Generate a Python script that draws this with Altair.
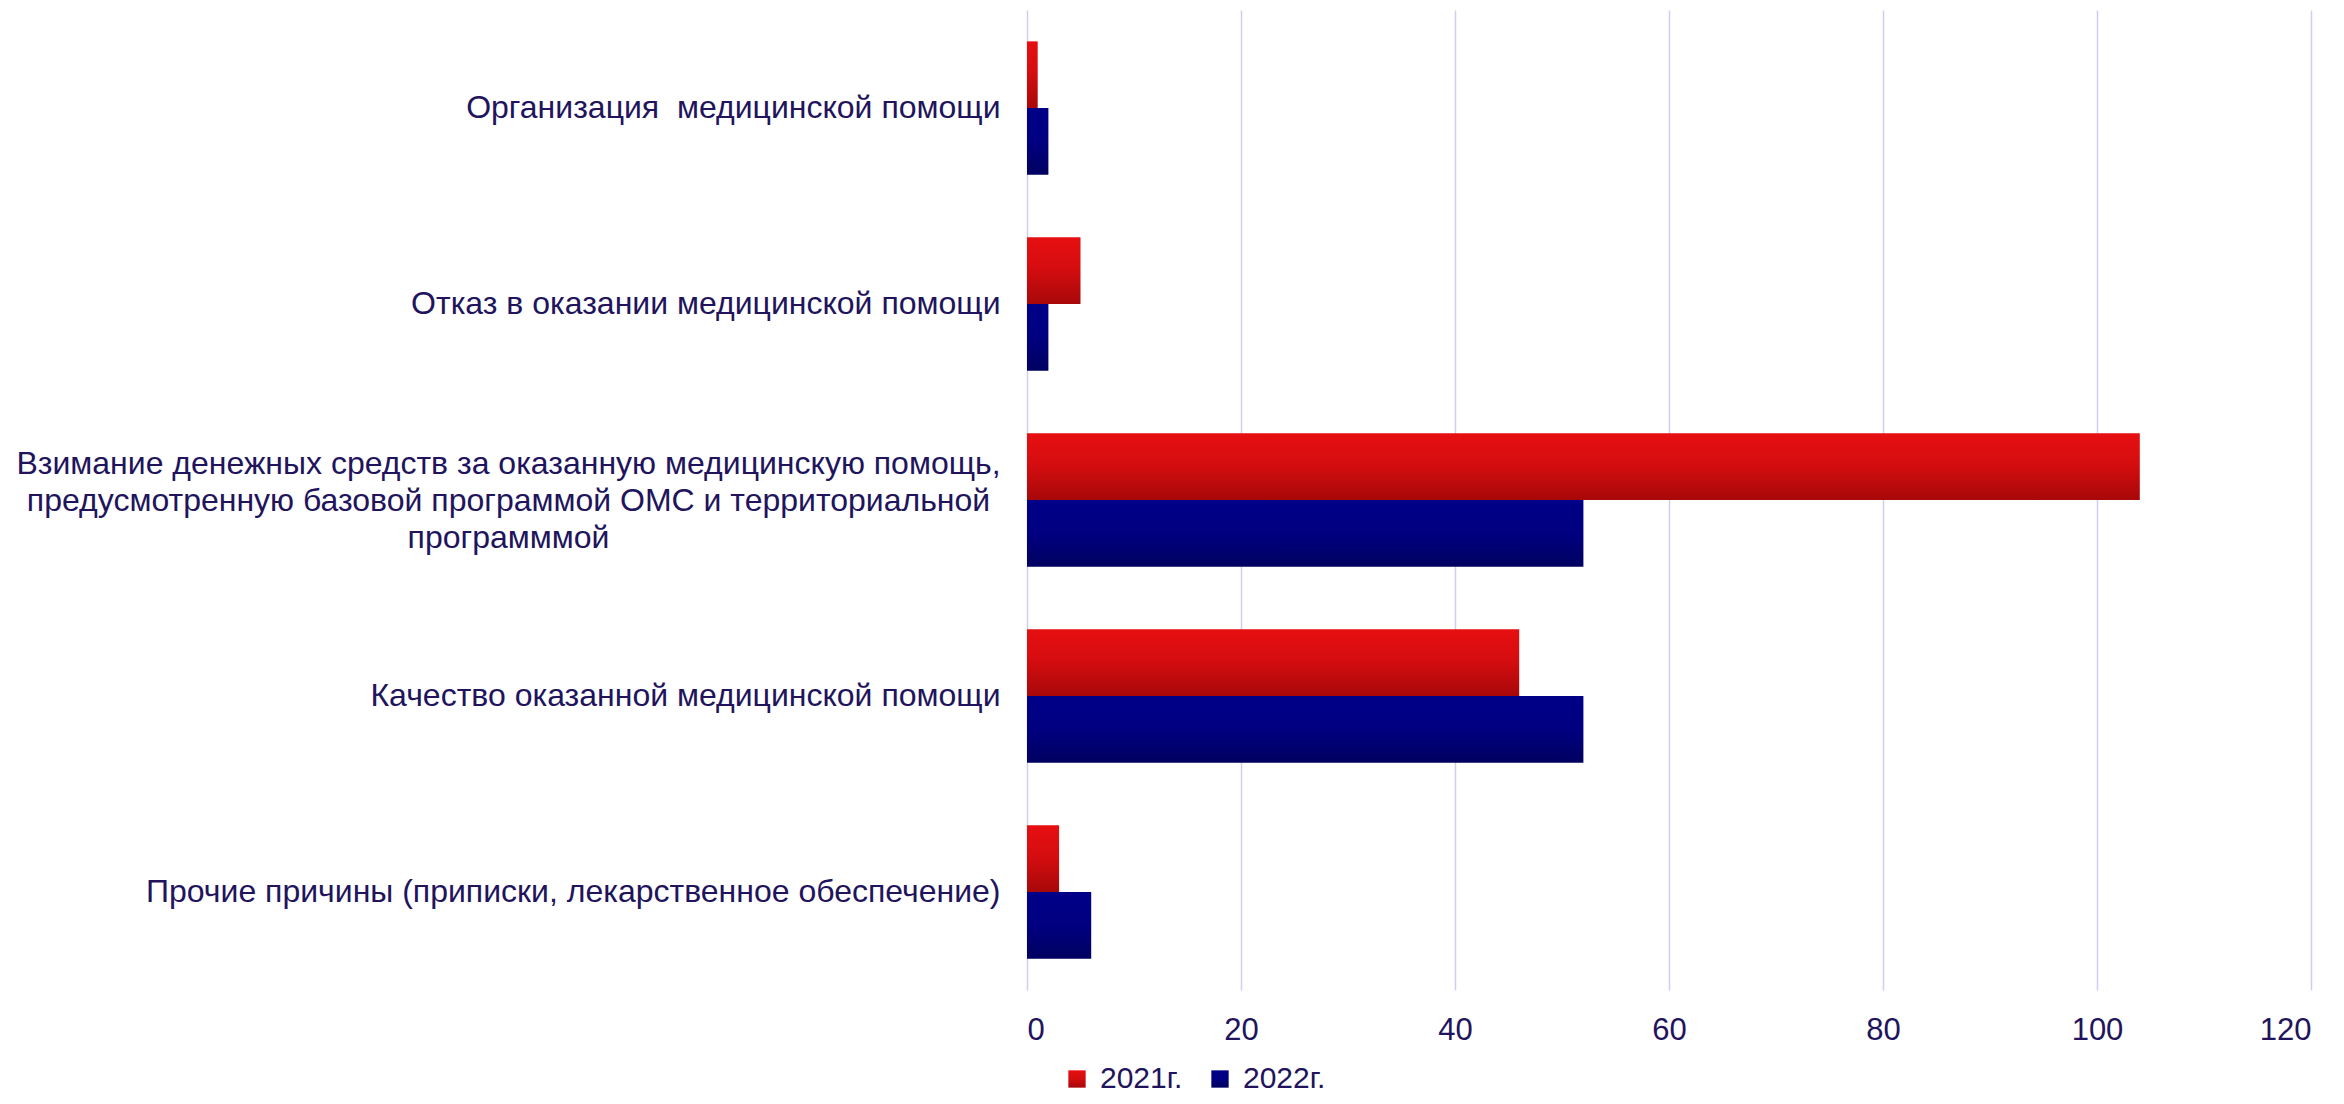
import altair as alt
import pandas as pd

categories = [
    "Организация\u00a0 медицинской помощи",
    "Отказ в оказании медицинской помощи",
    "Взимание денежных средств за оказанную медицинскую помощь,|предусмотренную базовой программой ОМС и территориальной\u00a0|программмой",
    "Качество оказанной медицинской помощи",
    "Прочие причины (приписки, лекарственное обеспечение)",
]
series = ["2021г.", "2022г."]
values_2021 = [1, 5, 104, 46, 3]
values_2022 = [2, 2, 52, 52, 6]
x_ticks = [0, 20, 40, 60, 80, 100, 120]

rows = []
for c, a, b in zip(categories, values_2021, values_2022):
    rows.append({"cat": c, "series": series[0], "value": a})
    rows.append({"cat": c, "series": series[1], "value": b})
df = pd.DataFrame(rows)

TEXT = "#21145c"
FONT = "Liberation Sans"

red_grad = "{gradient:'linear', x1:0, y1:0, x2:0, y2:1, stops:[{offset:0, color:'#e60f11'}, {offset:0.45, color:'#d60d0f'}, {offset:1, color:'#a8080a'}]}"
blue_grad = "{gradient:'linear', x1:0, y1:0, x2:0, y2:1, stops:[{offset:0, color:'#000088'}, {offset:0.5, color:'#000080'}, {offset:1, color:'#000060'}]}"

is_multi = "indexof(datum.value, '|') >= 0"

chart = (
    alt.Chart(df)
    .mark_bar()
    .encode(
        y=alt.Y(
            "cat:N",
            sort=categories,
            scale=alt.Scale(paddingInner=0.32, paddingOuter=0.16),
            axis=alt.Axis(
                title=None,
                ticks=False,
                domain=False,
                labelFont=FONT,
                labelFontSize=32,
                labelColor=TEXT,
                labelLimit=2000,
                labelLineHeight=37,
                labelBaseline="middle",
                labelExpr="split(datum.label, '|')",
                labelAlign={"condition": {"test": is_multi, "value": "center"}, "value": "right"},
                labelPadding={"condition": {"test": is_multi, "value": 519}, "value": 27},
                labelOffset={"condition": {"test": is_multi, "value": -36}, "value": 0},
            ),
        ),
        yOffset=alt.YOffset("series:N", sort=series, scale=alt.Scale(domain=series, paddingInner=0, paddingOuter=0)),
        x=alt.X(
            "value:Q",
            scale=alt.Scale(domain=[0, 120], nice=False),
            axis=alt.Axis(
                title=None,
                values=x_ticks,
                ticks=False,
                domain=False,
                grid=True,
                gridColor="#d2cbf3",
                gridWidth=1.5,
                labelFont=FONT,
                labelFontSize=31,
                labelColor=TEXT,
                labelPadding=25,
            ),
        ),
        color=alt.Color(
            "series:N",
            sort=series,
            scale=alt.Scale(domain=series, range=[alt.ExprRef(red_grad), alt.ExprRef(blue_grad)]),
            legend=alt.Legend(
                title=None,
                orient="none",
                legendX=35,
                legendY=1054,
                direction="horizontal",
                symbolType="square",
                symbolSize=300,
                symbolStrokeWidth=0,
                labelFont=FONT,
                labelFontSize=30,
                labelColor=TEXT,
                labelOffset=8,
                columnPadding=22,
                padding=0,
            ),
        ),
    )
    .properties(
        width=1284,
        height=980,
        autosize=alt.AutoSizeParams(type="none"),
        padding={"left": 1019, "top": 2, "right": 25, "bottom": 106},
    )
    .configure_view(stroke=None)
)

chart.save("out.html", embed_options={"renderer": "svg", "actions": False})
